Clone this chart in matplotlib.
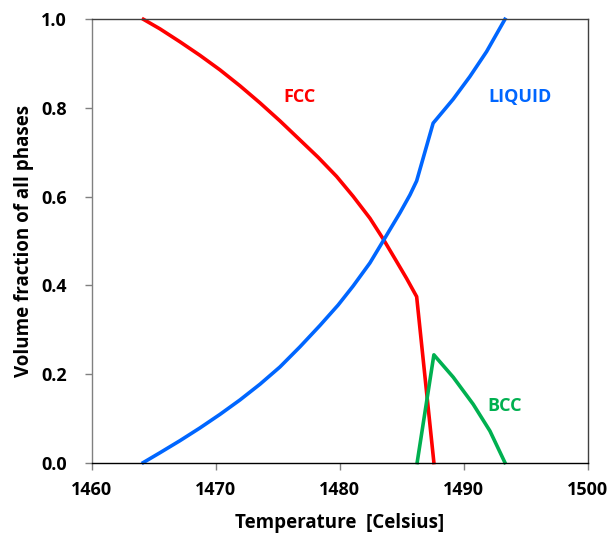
import matplotlib
matplotlib.use("Agg")
import matplotlib.pyplot as plt

plt.rcParams['font.family'] = ['Open Sans', 'DejaVu Sans']

fcc_T = [1464.15, 1465.48, 1467.10, 1468.71, 1470.32, 1471.94, 1473.55, 1475.16,
         1476.77, 1478.25, 1479.73, 1481.07, 1482.42, 1483.49, 1484.57, 1485.38,
         1486.19, 1487.58]
fcc_f = [1.000, 0.9785, 0.9492, 0.9187, 0.8860, 0.8499, 0.8115, 0.7709,
         0.7280, 0.6885, 0.6456, 0.6005, 0.5512, 0.5045, 0.4537, 0.4153,
         0.3743, 0.0]

liq_T = [1464.14, 1465.48, 1467.10, 1468.71, 1470.32, 1471.94, 1473.55, 1475.16,
         1476.77, 1478.39, 1479.86, 1481.07, 1482.42, 1483.49, 1484.84, 1485.65,
         1486.19, 1487.52, 1489.14, 1490.48, 1491.83, 1493.31]
liq_f = [0.0, 0.0221, 0.0494, 0.0781, 0.1086, 0.1413, 0.1767, 0.2156,
         0.2609, 0.3093, 0.3555, 0.3984, 0.4503, 0.5000, 0.5632, 0.6038,
         0.6354, 0.7657, 0.8199, 0.8707, 0.9271, 1.0]

bcc_T = [1486.23, 1487.58, 1489.14, 1490.75, 1492.10, 1493.31]
bcc_f = [0.0, 0.243, 0.1926, 0.1316, 0.0713, 0.0]

xticks = [1460, 1470, 1480, 1490, 1500]
yticks = [0.0, 0.2, 0.4, 0.6, 0.8, 1.0]

fig = plt.figure(figsize=(6.13, 5.36), dpi=100)
ax = fig.add_axes([0.150, 0.137, 0.809, 0.827])

red = '#FF0000'
blue = '#0066FF'
green = '#00B050'

ax.plot(fcc_T, fcc_f, color=red, lw=2.6, clip_on=False)
ax.plot(liq_T, liq_f, color=blue, lw=2.6, clip_on=False)
ax.plot(bcc_T, bcc_f, color=green, lw=2.6, clip_on=False)

ax.set_xlim(1460, 1500)
ax.set_ylim(0, 1)
ax.set_xticks(xticks)
ax.set_yticks(yticks)
ax.set_xticklabels([str(t) for t in xticks], fontsize=13, fontweight='bold')
ax.set_yticklabels([f"{t:.1f}" for t in yticks], fontsize=13, fontweight='bold')
ax.tick_params(axis='both', direction='out', length=5, width=1, color='#808080')
ax.tick_params(axis='x', pad=8)
ax.tick_params(axis='y', pad=13)

ax.spines['left'].set_color('#808080')
ax.spines['bottom'].set_color('#000000')
ax.spines['top'].set_color('#404040')
ax.spines['right'].set_color('#404040')
for s in ax.spines.values():
    s.set_linewidth(1.0)

ax.set_xlabel('Temperature  [Celsius]', fontsize=13.5, fontweight='bold', labelpad=10)
ax.set_ylabel('Volume fraction of all phases', fontsize=13.5, fontweight='bold', labelpad=5)

ax.text(1476.77, 0.825, 'FCC', color=red, fontsize=13, fontweight='bold', ha='center', va='center')
ax.text(1494.52, 0.825, 'LIQUID', color=blue, fontsize=13, fontweight='bold', ha='center', va='center')
ax.text(1493.31, 0.1275, 'BCC', color=green, fontsize=13, fontweight='bold', ha='center', va='center')

fig.savefig('out.png', dpi=100)
